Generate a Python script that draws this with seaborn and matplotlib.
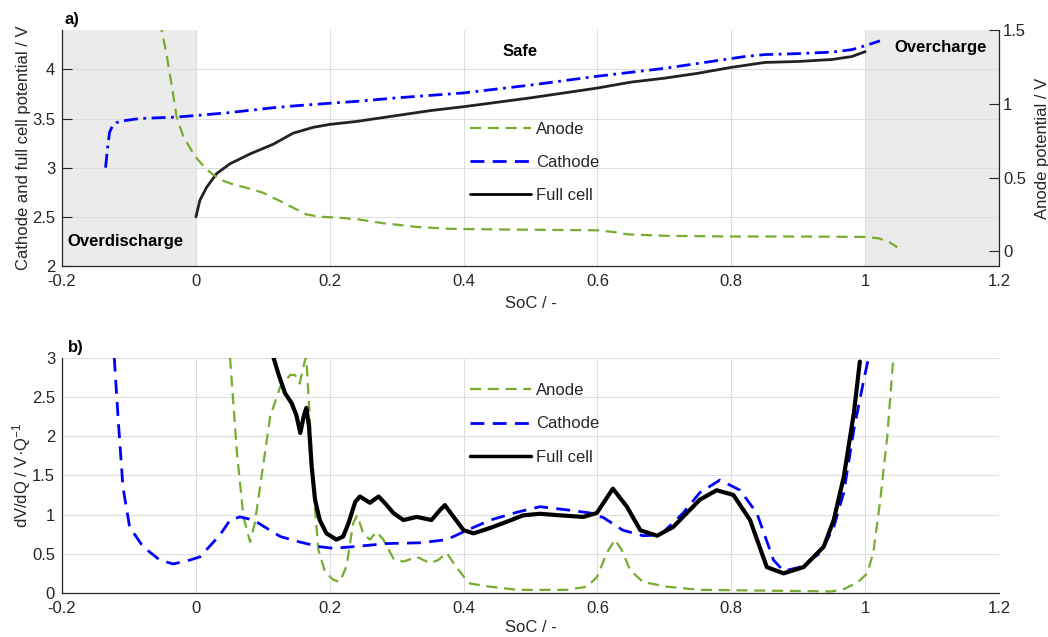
import numpy as np
import pandas as pd
import matplotlib
matplotlib.use("Agg")
import matplotlib.pyplot as plt
from matplotlib.lines import Line2D
import seaborn as sns

# ---------------- data: panel a) potentials ----------------
anode_x = [-0.056, -0.0513, -0.044, -0.036, -0.029, -0.019, -0.0015, 0.016, 0.036, 0.056,
           0.076, 0.10, 0.126, 0.15, 0.165, 0.185, 0.215, 0.243, 0.28, 0.33,
           0.38, 0.45, 0.6, 0.625, 0.644, 0.7, 0.8, 0.9, 1.0, 1.02,
           1.035, 1.048]
anode_v = [1.68, 1.5, 1.34, 1.12, 0.914, 0.78, 0.644, 0.554, 0.486, 0.453,
           0.43, 0.397, 0.34, 0.284, 0.25, 0.234, 0.227, 0.216, 0.19, 0.165,
           0.152, 0.148, 0.142, 0.13, 0.115, 0.105, 0.10, 0.10, 0.097, 0.088,
           0.065, 0.027]

cathode_x = [-0.135, -0.132, -0.129, -0.125, -0.118, -0.105, -0.084, -0.029, 0.0, 0.05,
             0.116, 0.15, 0.2, 0.243, 0.3, 0.4, 0.5, 0.6, 0.7, 0.78,
             0.82, 0.85, 0.9, 0.95, 0.98, 1.0, 1.022]
cathode_v = [3.0, 3.2, 3.36, 3.42, 3.46, 3.48, 3.50, 3.515, 3.53, 3.56,
             3.61, 3.63, 3.655, 3.676, 3.71, 3.76, 3.84, 3.93, 4.01, 4.09,
             4.13, 4.15, 4.16, 4.175, 4.2, 4.24, 4.29]

full_x = [0.0, 0.006, 0.016, 0.031, 0.051, 0.081, 0.116, 0.145, 0.175, 0.2,
          0.24, 0.3, 0.35, 0.4, 0.5, 0.6, 0.65, 0.7, 0.75, 0.8,
          0.85, 0.9, 0.95, 0.98, 1.0]
full_v = [2.5, 2.67, 2.80, 2.94, 3.04, 3.14, 3.24, 3.35, 3.41, 3.44,
          3.47, 3.53, 3.58, 3.62, 3.71, 3.81, 3.87, 3.91, 3.96, 4.02,
          4.07, 4.08, 4.10, 4.13, 4.18]

# ---------------- data: panel b) dV/dQ ----------------
dcat_x = [-0.122, -0.116, -0.109, -0.099, -0.079, -0.054, -0.034, -0.009, 0.006, 0.036,
          0.051, 0.066, 0.086, 0.105, 0.126, 0.155, 0.185, 0.205, 0.235, 0.285,
          0.335, 0.375, 0.40, 0.44, 0.48, 0.514, 0.554, 0.589, 0.609, 0.638,
          0.668, 0.694, 0.728, 0.753, 0.783, 0.813, 0.838, 0.863, 0.878, 0.903,
          0.933, 0.953, 0.968, 0.983, 0.998, 1.005]
dcat_y = [3.0, 2.2, 1.35, 0.84, 0.59, 0.42, 0.37, 0.42, 0.46, 0.74,
          0.93, 0.97, 0.93, 0.83, 0.72, 0.65, 0.59, 0.57, 0.59, 0.63,
          0.64, 0.68, 0.78, 0.93, 1.03, 1.10, 1.06, 1.02, 0.96, 0.80,
          0.73, 0.74, 1.02, 1.28, 1.44, 1.31, 1.02, 0.42, 0.28, 0.33,
          0.51, 0.84, 1.28, 2.08, 2.72, 3.0]

dfull_x = [0.116, 0.123, 0.133, 0.143, 0.15, 0.156, 0.161, 0.165, 0.169, 0.173,
           0.178, 0.185, 0.195, 0.21, 0.22, 0.228, 0.238, 0.245, 0.26, 0.273,
           0.283, 0.295, 0.31, 0.33, 0.352, 0.365, 0.372, 0.385, 0.40, 0.415,
           0.44, 0.465, 0.489, 0.514, 0.544, 0.579, 0.599, 0.623, 0.644, 0.664,
           0.689, 0.713, 0.753, 0.778, 0.803, 0.828, 0.853, 0.878, 0.908, 0.938,
           0.953, 0.968, 0.983, 0.992]
dfull_y = [3.0, 2.80, 2.55, 2.42, 2.27, 2.04, 2.25, 2.36, 2.12, 1.61,
           1.19, 0.93, 0.76, 0.68, 0.72, 0.89, 1.16, 1.23, 1.15, 1.23,
           1.14, 1.02, 0.93, 0.97, 0.93, 1.06, 1.12, 0.97, 0.80, 0.76,
           0.83, 0.91, 0.99, 1.01, 0.99, 0.97, 1.02, 1.33, 1.10, 0.80,
           0.73, 0.84, 1.19, 1.31, 1.25, 0.93, 0.33, 0.25, 0.33, 0.59,
           0.93, 1.48, 2.29, 2.95]

dan_x = [0.051, 0.061, 0.071, 0.081, 0.088, 0.098, 0.111, 0.126, 0.141, 0.148,
         0.155, 0.163, 0.165, 0.17, 0.175, 0.183, 0.193, 0.205, 0.215, 0.225,
         0.235, 0.241, 0.25, 0.26, 0.27, 0.28, 0.295, 0.31, 0.33, 0.35,
         0.362, 0.375, 0.385, 0.40, 0.41, 0.44, 0.48, 0.554, 0.584, 0.599,
         0.614, 0.626, 0.636, 0.649, 0.668, 0.704, 0.753, 0.85, 0.95, 0.968,
         0.988, 1.003, 1.012, 1.022, 1.033, 1.042]
dan_y = [3.0, 1.82, 0.97, 0.65, 0.89, 1.48, 2.25, 2.63, 2.78, 2.78,
         2.67, 2.97, 3.0, 2.25, 1.40, 0.55, 0.27, 0.17, 0.14, 0.34,
         0.89, 0.99, 0.76, 0.68, 0.78, 0.68, 0.44, 0.40, 0.46, 0.38,
         0.42, 0.51, 0.38, 0.21, 0.12, 0.08, 0.04, 0.04, 0.08, 0.20,
         0.51, 0.68, 0.55, 0.29, 0.14, 0.08, 0.04, 0.03, 0.02, 0.05,
         0.13, 0.25, 0.51, 1.15, 2.0, 3.0]

legend_labels = ["Anode", "Cathode", "Full cell"]
xticks = [-0.2, 0, 0.2, 0.4, 0.6, 0.8, 1, 1.2]
xticklabels = ["-0.2", "0", "0.2", "0.4", "0.6", "0.8", "1", "1.2"]

# ---------------- style ----------------
sns.set_theme(style="white")
plt.rcParams['font.family'] = ['Liberation Sans', 'DejaVu Sans']
plt.rcParams['mathtext.fontset'] = 'custom'
plt.rcParams['mathtext.rm'] = 'Liberation Sans'
plt.rcParams['mathtext.it'] = 'Liberation Sans:italic'
plt.rcParams['mathtext.bf'] = 'Liberation Sans:bold'

GREEN = "#77ac30"
BLUE = "#0000ff"
BLACK = "#000000"
DARK = "#262626"
GRID = "#dedede"
SHADE = "#ebebeb"
FS = 12

fig = plt.figure(figsize=(10.48, 6.37), dpi=100)
ax1 = fig.add_axes([0.0592, 0.5824, 0.8941, 0.3705])
ax2 = fig.add_axes([0.0592, 0.0691, 0.8941, 0.3694])


def style_axes(ax):
    ax.set_facecolor("white")
    ax.grid(True, color=GRID, lw=0.8)
    ax.set_axisbelow(True)
    ax.tick_params(direction="in", length=7, width=0.8, colors=DARK,
                   labelsize=FS)
    ax.tick_params(axis="x", pad=6)
    ax.tick_params(axis="y", pad=5)
    ax.spines["top"].set_visible(False)
    ax.spines["right"].set_visible(False)
    for s in ("left", "bottom"):
        ax.spines[s].set_color(DARK)
        ax.spines[s].set_linewidth(0.9)
    ax.set_xlim(-0.2, 1.2)
    ax.set_xticks(xticks)
    ax.set_xticklabels(xticklabels)


# ---------- panel a ----------
style_axes(ax1)
ax1.axvspan(-0.2, 0, color=SHADE, lw=0, zorder=0.1)
ax1.axvspan(1.0, 1.2, color=SHADE, lw=0, zorder=0.1)
ax1.set_ylim(2, 4.4)
ax1.set_yticks([2, 2.5, 3, 3.5, 4])
ax1.set_yticklabels(["2", "2.5", "3", "3.5", "4"])
sns.lineplot(x=cathode_x, y=cathode_v, ax=ax1, color=BLUE, lw=2,
             linestyle=(0, (5, 2, 1, 2)), estimator=None, sort=False)
sns.lineplot(x=full_x, y=full_v, ax=ax1, color="#222222", lw=2,
             estimator=None, sort=False)
ax1.set_xlabel("SoC / -", fontsize=FS, color=DARK, labelpad=5)
ax1.set_ylabel("Cathode and full cell potential / V", fontsize=FS, color=DARK, labelpad=1)

ax1r = ax1.twinx()
ax1r.set_ylim(-0.1, 1.5)
ax1r.set_yticks([0, 0.5, 1, 1.5])
ax1r.set_yticklabels(["0", "0.5", "1", "1.5"])
ax1r.grid(False)
for s in ("top", "left", "bottom"):
    ax1r.spines[s].set_visible(False)
ax1r.spines["right"].set_color(DARK)
ax1r.spines["right"].set_linewidth(0.9)
ax1r.tick_params(direction="in", length=7, width=0.8, colors=DARK,
                 labelsize=FS, pad=3)
sns.lineplot(x=anode_x, y=anode_v, ax=ax1r, color=GREEN, lw=1.6,
             linestyle=(0, (5, 3)), estimator=None, sort=False)
ax1r.set_ylabel("Anode potential / V", fontsize=FS, color=DARK, labelpad=6)
ax1r.set_xlim(-0.2, 1.2)

ax1.text(-0.105, 2.25, "Overdischarge", ha="center", va="center",
         fontsize=FS, fontweight="bold", color=BLACK)
ax1.text(0.484, 4.18, "Safe", ha="center", va="center",
         fontsize=FS, fontweight="bold", color=BLACK)
ax1.text(1.112, 4.22, "Overcharge", ha="center", va="center",
         fontsize=FS, fontweight="bold", color=BLACK, zorder=5)
ax1.text(0.003, 1.012, "a)", transform=ax1.transAxes, ha="left", va="bottom",
         fontsize=FS, fontweight="bold", color=BLACK)

handles_a = [Line2D([], [], color=GREEN, lw=1.6, linestyle=(0, (5, 3))),
             Line2D([], [], color=BLUE, lw=2, linestyle=(0, (5, 3))),
             Line2D([], [], color=BLACK, lw=2)]
ax1r.legend(handles_a, legend_labels, loc="upper left", bbox_to_anchor=(0.435, 0.612),
            frameon=False, fontsize=FS, handlelength=3.7, handletextpad=0.3,
            labelspacing=1.1, borderpad=0, borderaxespad=0)

# ---------- panel b ----------
style_axes(ax2)
ax2.set_ylim(0, 3)
ax2.set_yticks([0, 0.5, 1, 1.5, 2, 2.5, 3])
ax2.set_yticklabels(["0", "0.5", "1", "1.5", "2", "2.5", "3"])
sns.lineplot(x=dan_x, y=dan_y, ax=ax2, color=GREEN, lw=1.6,
             linestyle=(0, (5, 3)), estimator=None, sort=False)
sns.lineplot(x=dcat_x, y=dcat_y, ax=ax2, color=BLUE, lw=2,
             linestyle=(0, (5, 3)), estimator=None, sort=False)
sns.lineplot(x=dfull_x, y=dfull_y, ax=ax2, color=BLACK, lw=3,
             estimator=None, sort=False)
ax2.set_xlabel("SoC / -", fontsize=FS, color=DARK, labelpad=3)
ax2.set_ylabel("dV/dQ / V·Q$^{-1}$", fontsize=FS, color=DARK, labelpad=-1)
ax2.text(0.006, 1.012, "b)", transform=ax2.transAxes, ha="left", va="bottom",
         fontsize=FS, fontweight="bold", color=BLACK)
handles_b = [Line2D([], [], color=GREEN, lw=1.6, linestyle=(0, (5, 3))),
             Line2D([], [], color=BLUE, lw=2, linestyle=(0, (5, 3))),
             Line2D([], [], color=BLACK, lw=2.5)]
ax2.legend(handles_b, legend_labels, loc="upper left", bbox_to_anchor=(0.435, 0.892),
           frameon=False, fontsize=FS, handlelength=3.7, handletextpad=0.3,
           labelspacing=1.1, borderpad=0, borderaxespad=0)

fig.savefig("out.png", dpi=100)
